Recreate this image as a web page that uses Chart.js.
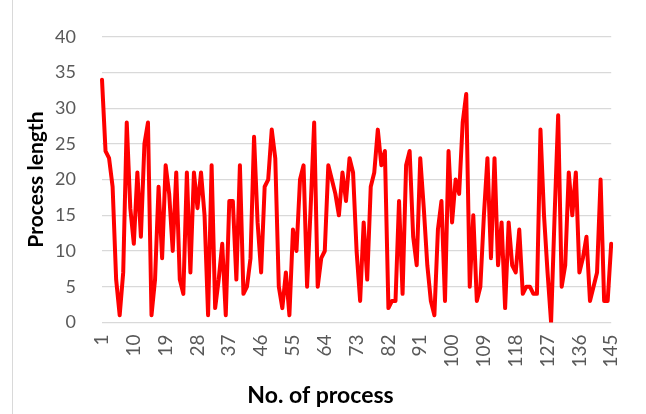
<!DOCTYPE html>
<html>
<head>
<meta charset="utf-8">
<script src="https://cdn.jsdelivr.net/npm/chart.js@4/dist/chart.umd.min.js"></script>
<style>
  html, body { margin: 0; padding: 0; background: #fff; }
  #wrap { position: relative; width: 646px; height: 414px; }
  #frame { position: absolute; left: 12px; top: 0; height: 414px; border-left: 1px solid #d9d9d9; }
  canvas { position: absolute; left: 0; top: 0; }
</style>
</head>
<body>
<div id="wrap">
  <div id="frame"></div>
  <canvas id="c" width="646" height="414"></canvas>
</div>
<script>
// process length for each process
const processLength = [
  34, 24, 23, 19, 6, 1, 7, 28, 16, 11,
  21, 12, 25, 28, 1, 6, 19, 9, 22, 18,
  10, 21, 6, 4, 21, 7, 21, 16, 21, 15,
  1, 22, 2, 6, 11, 1, 17, 17, 6, 22,
  4, 5, 9, 26, 14, 7, 19, 20, 27, 23,
  5, 2, 7, 1, 13, 10, 20, 22, 5, 16,
  28, 5, 9, 10, 22, 20, 18, 15, 21, 17,
  23, 21, 10, 3, 14, 6, 19, 21, 27, 22,
  24, 2, 3, 3, 17, 4, 22, 24, 12, 8,
  23, 16, 8, 3, 1, 13, 17, 3, 24, 14,
  20, 18, 28, 32, 5, 15, 3, 5, 15, 23,
  9, 23, 8, 14, 2, 14, 8, 7, 13, 4,
  5, 5, 4, 4, 27, 15, 7, 0, 15, 29,
  5, 8, 21, 15, 21, 7, 9, 12, 3, 5,
  7, 20, 3, 3, 11
];
const processNo = processLength.map((_, i) => String(i + 1));
const shownTicks = ["1", "10", "19", "28", "37", "46", "55", "64", "73", "82",
                    "91", "100", "109", "118", "127", "136", "145"];
const yTicks = [0, 5, 10, 15, 20, 25, 30, 35, 40];

const ctx = document.getElementById("c").getContext("2d");
new Chart(ctx, {
  type: "line",
  data: {
    labels: processNo,
    datasets: [{
      data: processLength,
      borderColor: "#ff0000",
      borderWidth: 4,
      pointRadius: 0,
      tension: 0,
      borderJoinStyle: "round",
      borderCapStyle: "round",
      fill: false
    }]
  },
  options: {
    responsive: false,
    animation: false,
    devicePixelRatio: 1,
    layout: { padding: { left: 24, right: 29, top: 34, bottom: 0 } },
    plugins: {
      legend: { display: false },
      tooltip: { enabled: false },
      title: {
        display: true,
        text: "No. of process",
        position: "bottom",
        color: "#000",
        font: { family: "Lato", size: 23, weight: "bold" },
        padding: { top: 0, bottom: 5 }
      }
    },
    scales: {
      x: {
        type: "category",
        offset: false,
        grid: { display: false, drawTicks: false },
        border: { display: false },
        ticks: {
          autoSkip: false,
          minRotation: 90,
          maxRotation: 90,
          padding: 12,
          color: "#595959",
          font: { family: "Lato", size: 19 },
          callback: (v, i) => shownTicks.includes(processNo[i]) ? processNo[i] : ""
        },
        afterFit: (s) => { s.height = 59; }
      },
      y: {
        min: yTicks[0],
        max: yTicks[yTicks.length - 1],
        ticks: {
          stepSize: yTicks[1] - yTicks[0],
          padding: 26,
          color: "#595959",
          font: { family: "Lato", size: 18 }
        },
        grid: { color: "#d9d9d9", lineWidth: 1.3, drawTicks: false },
        border: { display: false },
        title: {
          display: true,
          text: "Process length",
          color: "#000",
          font: { family: "Lato", size: 21, weight: "bold" },
          padding: 0
        },
        afterFit: (s) => { s.width = 78; }
      }
    }
  }
});
</script>
</body>
</html>
